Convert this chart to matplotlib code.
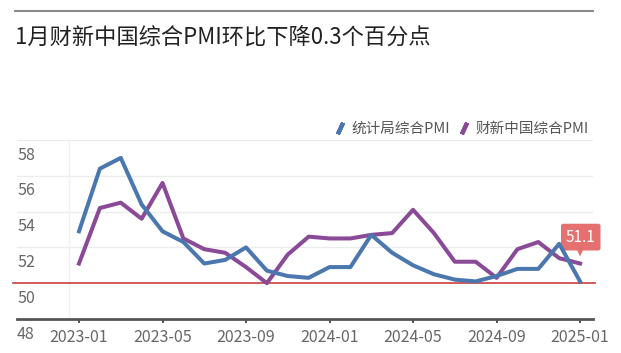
import matplotlib
matplotlib.use("Agg")
import matplotlib.pyplot as plt
from matplotlib.lines import Line2D
from matplotlib.transforms import ScaledTranslation

plt.rcParams['font.family'] = ['Noto Sans CJK SC', 'DejaVu Sans']

# monthly data 2023-01 .. 2025-01
months = ['2023-01', '2023-02', '2023-03', '2023-04', '2023-05', '2023-06', '2023-07',
          '2023-08', '2023-09', '2023-10', '2023-11', '2023-12', '2024-01', '2024-02',
          '2024-03', '2024-04', '2024-05', '2024-06', '2024-07', '2024-08', '2024-09',
          '2024-10', '2024-11', '2024-12', '2025-01']
nbs_pmi = [52.9, 56.4, 57.0, 54.4, 52.9, 52.3, 51.1, 51.3, 52.0, 50.7, 50.4, 50.3, 50.9,
           50.9, 52.7, 51.7, 51.0, 50.5, 50.2, 50.1, 50.4, 50.8, 50.8, 52.2, 50.1]
caixin_pmi = [51.1, 54.2, 54.5, 53.6, 55.6, 52.5, 51.9, 51.7, 50.9, 50.0, 51.6, 52.6, 52.5,
              52.5, 52.7, 52.8, 54.1, 52.8, 51.2, 51.2, 50.3, 51.9, 52.3, 51.4, 51.1]
yticks = [48, 50, 52, 54, 56, 58]
xtick_idx = [0, 4, 8, 12, 16, 20, 24]

blue = '#4a78ae'
purple = '#8a4a98'

fig = plt.figure(figsize=(6.21, 3.53), dpi=100)
W, H = 621, 353
ax = fig.add_axes([17 / W, 1 - 319 / H, (593 - 17) / W, (319 - 140) / H])

x = list(range(len(months)))
ax.plot(x, nbs_pmi, color=blue, lw=2.9, solid_joinstyle='round', zorder=4)
ax.plot(x, caixin_pmi, color=purple, lw=2.9, solid_joinstyle='round', zorder=3)

ax.set_xlim(-2.97, 24.62)
ax.set_ylim(48, 58)

for v in yticks[2:]:
    ax.axhline(v, color='#ececec', lw=1, zorder=1)
ax.axhline(50, color='#c84040', lw=1.2, zorder=2, xmin=-0.007, xmax=1.004, clip_on=False)
ax.axvline(-0.48, color='#f0f0f0', lw=1, zorder=1)

for s in ['top', 'right', 'left']:
    ax.spines[s].set_visible(False)
ax.spines['bottom'].set_color('#555555')
ax.spines['bottom'].set_linewidth(2)

ax.set_xticks(xtick_idx)
ax.set_xticklabels([months[i] for i in xtick_idx])
ax.tick_params(axis='x', length=3, width=1.2, color='#333333', pad=4,
               labelsize=11.5, labelcolor='#666666')

ax.set_yticks(yticks)
ax.set_yticklabels([str(v) for v in yticks])
ax.tick_params(axis='y', length=0, pad=0, labelsize=11.5, labelcolor='#666666')
shift = ScaledTranslation(0, -13 / 100, fig.dpi_scale_trans)
for lab in ax.get_yticklabels():
    lab.set_horizontalalignment('left')
    lab.set_transform(lab.get_transform() + shift)

# last value label
ax.annotate(f'{caixin_pmi[-1]}', xy=(x[-1], caixin_pmi[-1]), xytext=(0.5, 19),
            textcoords='offset points', ha='center', va='center', color='white',
            fontsize=11,
            bbox=dict(boxstyle='round,pad=0.32,rounding_size=0.15', fc='#e57070', ec='none'))
ax.annotate('', xy=(x[-1], caixin_pmi[-1]), xytext=(0, 10.5), textcoords='offset points',
            arrowprops=dict(arrowstyle='wedge,tail_width=0.5', color='#e57070',
                            shrinkA=0, shrinkB=5, lw=0))

handles = [Line2D([], [], ls='none', marker=(2, 2, -25), markersize=9,
                  markeredgewidth=3, color=c) for c in (blue, purple)]
leg = ax.legend(handles, ['统计局综合PMI', '财新中国综合PMI'], loc='lower right',
                bbox_to_anchor=(1.0, 1.0), ncol=2, frameon=False, fontsize=10.5,
                handlelength=0.8, handletextpad=0.4, columnspacing=0.5, borderaxespad=0.1,
                borderpad=0.2)
for t in leg.get_texts():
    t.set_color('#555555')

fig.add_artist(Line2D([15 / W, 593 / W], [1 - 11 / H, 1 - 11 / H], color='#8a8a8a', lw=1.5))
fig.text(15 / W, 1 - 38 / H, '1月财新中国综合PMI环比下降0.3个百分点', fontsize=16,
         color='#222222', va='center', ha='left')

fig.savefig('out.png', dpi=100)
